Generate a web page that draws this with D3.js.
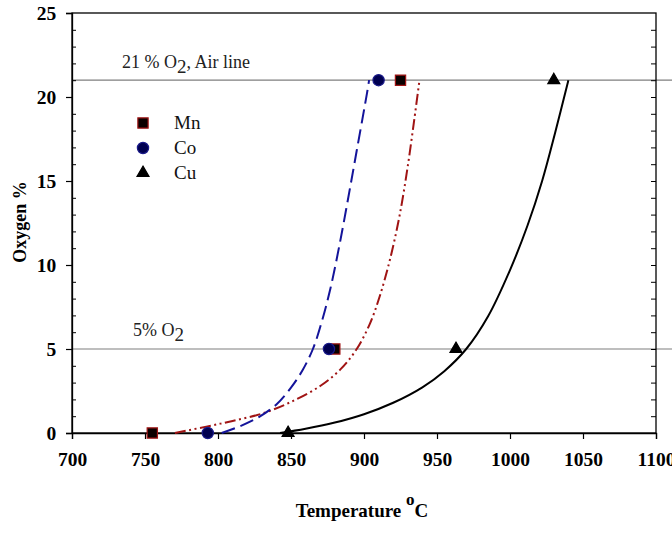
<!DOCTYPE html>
<html>
<head>
<meta charset="utf-8">
<script src="https://cdn.jsdelivr.net/npm/d3@7"></script>
<style>
  html, body { margin: 0; padding: 0; background: #fff; }
  svg { display: block; }
  text { font-family: "Liberation Serif", "Times New Roman", serif; }
</style>
</head>
<body>
<svg id="chart" width="672" height="533"></svg>
<script>
// ---- data ----
const xTicks = [700, 750, 800, 850, 900, 950, 1000, 1050, 1100];
const yTicks = [0, 5, 10, 15, 20, 25];
const seriesNames = ["Mn", "Co", "Cu"];

// measured points
const mnPoints = [[755, 0], [880, 5], [925, 21]];
const coPoints = [[793, 0], [876, 5], [910, 21]];
const cuPoints = [[848, 0], [963, 5], [1030, 21]];

// fitted curves
const mnCurve = [[770.5, 0], [792, 0.38], [810, 0.72], [830, 1.15], [850, 1.85], [870, 2.8], [884, 3.8], [895, 5.0],
  [904, 6.5], [911, 8.2], [918, 10.4], [924.5, 13.0], [930, 15.9], [934.5, 18.7], [938, 21]];
const coCurve = [[802.5, 0], [815, 0.4], [828, 0.95], [840, 1.7], [850, 2.7], [858, 3.75], [865, 5.0],
  [871, 6.6], [877, 8.6], [883, 11.1], [889, 13.9], [895, 16.8], [902, 20.2], [903.5, 21]];
const cuCurve = [[842.5, 0], [860, 0.25], [880, 0.62], [900, 1.12], [920, 1.8], [940, 2.72], [955, 3.68],
  [970, 5.0], [985, 6.95], [1000, 9.7], [1012, 12.35], [1022, 15.0], [1031, 17.9], [1040, 21]];

const refLines = [21, 5];
const refLabels = ["21 % O", "5% O"];

// ---- layout ----
const svg = d3.select("#chart");
const x = d3.scaleLinear().domain([700, 1100]).range([72, 656]);
const y = d3.scaleLinear().domain([0, 25]).range([433, 13]);

// reference lines
svg.selectAll("line.ref").data(refLines).enter().append("line")
  .attr("x1", x(700)).attr("x2", 672)
  .attr("y1", d => y(d)).attr("y2", d => y(d))
  .attr("stroke", "#7f7f7f").attr("stroke-width", 1.2);

// frame
svg.append("rect").attr("x", x(700)).attr("y", y(25))
  .attr("width", x(1100) - x(700)).attr("height", y(0) - y(25))
  .attr("fill", "none").attr("stroke", "#000").attr("stroke-width", 1.3);

// x axis
const xAxis = d3.axisBottom(x).tickValues(xTicks).tickSize(6).tickFormat(d3.format("d"));
const gx = svg.append("g").attr("transform", `translate(0,${y(0)})`).call(xAxis);
gx.select(".domain").attr("stroke-width", 1.3);
gx.selectAll(".tick line").attr("stroke-width", 1.2);
gx.selectAll("text").attr("font-size", 19.5).attr("font-weight", "bold").attr("dy", "1.25em")
  .style("font-family", "Liberation Serif");

// y axis (major outward)
const yAxis = d3.axisLeft(y).tickValues(yTicks).tickSize(6);
const gy = svg.append("g").attr("transform", `translate(${x(700)},0)`).call(yAxis);
gy.select(".domain").attr("stroke-width", 1.3);
gy.selectAll(".tick line").attr("stroke-width", 1.2);
gy.selectAll("text").attr("font-size", 19.5).attr("font-weight", "bold").attr("dx", "-0.35em")
  .style("font-family", "Liberation Serif");

// minor ticks (inward) on left and right
const minor = d3.range(1, 25).filter(v => v % 5 !== 0);
const gyMinor = svg.append("g").attr("transform", `translate(${x(700)},0)`)
  .call(d3.axisRight(y).tickValues(minor).tickSize(4).tickFormat(""));
gyMinor.select(".domain").remove();
const rightTicks = d3.range(1, 25);
const gr = svg.append("g").attr("transform", `translate(${x(1100)},0)`)
  .call(d3.axisLeft(y).tickValues(rightTicks).tickSize(5).tickFormat(""));
gr.select(".domain").remove();

// curves
const lineY = d3.line().x(d => x(d[0])).y(d => y(d[1])).curve(d3.curveCatmullRom.alpha(0.5));
svg.append("path").datum(cuCurve).attr("d", lineY)
  .attr("fill", "none").attr("stroke", "#000").attr("stroke-width", 2);
svg.append("path").datum(mnCurve).attr("d", lineY)
  .attr("fill", "none").attr("stroke", "#a01414").attr("stroke-width", 2)
  .attr("stroke-dasharray", "11,3.5,2,3.5,2,3.5");
svg.append("path").datum(coCurve).attr("d", lineY)
  .attr("fill", "none").attr("stroke", "#14149a").attr("stroke-width", 2)
  .attr("stroke-dasharray", "14,6");

// markers
const sym = {
  Mn: d3.symbol().type(d3.symbolSquare).size(105),
  Co: d3.symbol().type(d3.symbolCircle).size(100),
  Cu: d3.symbol().type(d3.symbolTriangle).size(62)
};
const markerStyle = {
  Mn: { fill: "#0a0000", stroke: "#a01414" },
  Co: { fill: "#000050", stroke: "#1a1a8a" },
  Cu: { fill: "#000", stroke: "#000" }
};
const pts = { Mn: mnPoints, Co: coPoints, Cu: cuPoints };
seriesNames.forEach(n => {
  svg.selectAll("path.m" + n).data(pts[n]).enter().append("path")
    .attr("d", sym[n]())
    .attr("transform", d => `translate(${x(d[0])},${y(d[1])})`)
    .attr("fill", markerStyle[n].fill).attr("stroke", markerStyle[n].stroke).attr("stroke-width", 1.2);
});

// legend
const lg = svg.append("g");
seriesNames.forEach((n, i) => {
  const ly = 123 + i * 25;
  lg.append("path").attr("d", sym[n]()).attr("transform", `translate(143,${ly})`)
    .attr("fill", markerStyle[n].fill).attr("stroke", markerStyle[n].stroke).attr("stroke-width", 1.2);
  lg.append("text").attr("x", 174).attr("y", ly + 6).attr("font-size", 19).attr("fill", "#111").text(n);
});

// reference labels
const t1 = svg.append("text").attr("x", 122).attr("y", 68).attr("font-size", 18).attr("fill", "#222");
t1.append("tspan").text(refLabels[0]);
t1.append("tspan").attr("dy", 5).attr("font-size", 19).text("2");
t1.append("tspan").attr("dy", -5).text(", Air line");
const t2 = svg.append("text").attr("x", 133).attr("y", 336).attr("font-size", 18).attr("fill", "#222");
t2.append("tspan").text(refLabels[1]);
t2.append("tspan").attr("dy", 5).attr("font-size", 19).text("2");

// axis titles
const xt = svg.append("text").attr("x", 362).attr("y", 517).attr("text-anchor", "middle")
  .attr("font-size", 19).attr("font-weight", "bold");
xt.append("tspan").text("Temperature ");
xt.append("tspan").attr("dy", -12).attr("font-size", 17).text("o");
xt.append("tspan").attr("dy", 12).text("C");

svg.append("text").attr("transform", "translate(26,222) rotate(-90)").attr("text-anchor", "middle")
  .attr("font-size", 18).attr("font-weight", "bold").text("Oxygen %");
</script>
</body>
</html>
